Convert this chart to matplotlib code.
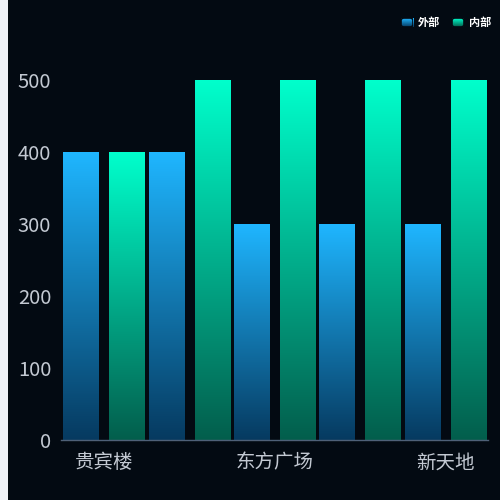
import numpy as np
import matplotlib
matplotlib.use('Agg')
import matplotlib.pyplot as plt
import matplotlib.patches as patches
from matplotlib.colors import LinearSegmentedColormap

plt.rcParams['font.family'] = ['Noto Sans CJK SC', 'DejaVu Sans']

# data
categories = ['贵宾楼', '', '东方广场', '', '新天地']
outer = [400, 400, 300, 300, 300]   # 外部
inner = [400, 500, 500, 500, 500]   # 内部
series_names = ['外部', '内部']

bg = '#030a12'
blue_top, blue_bot = '#1fb6ff', '#063a60'
green_top, green_bot = '#00ffcc', '#035e4c'

fig = plt.figure(figsize=(5, 5), dpi=100, facecolor=bg)
# light strip on the left edge
fig.patches.append(patches.Rectangle((0, 0), 0.016, 1, transform=fig.transFigure,
                                     facecolor='#eff2f7', edgecolor='none'))

ax = fig.add_axes([0.122, 0.12, 0.854, 0.72], facecolor=bg)
width = 0.41
offset = 0.27


def grad_bar(x, h, top, bot):
    cmap = LinearSegmentedColormap.from_list('g', [bot, top])
    g = np.linspace(0, 1, 256).reshape(-1, 1)
    ax.imshow(g, cmap=cmap, origin='lower', aspect='auto',
              extent=[x - width / 2, x + width / 2, 0, h], zorder=2)


for i in range(len(categories)):
    grad_bar(i - offset, outer[i], blue_top, blue_bot)
    grad_bar(i + offset, inner[i], green_top, green_bot)

ax.set_xlim(-0.5, len(categories) - 0.5)
ax.set_ylim(0, 500)
ax.set_xticks(range(len(categories)))
ax.set_xticklabels(categories, fontsize=14, color='#c3c9d2')
ax.set_yticks([0, 100, 200, 300, 400, 500])
ax.tick_params(axis='both', length=0, colors='#c3c9d2')
ax.tick_params(axis='y', labelsize=14.5, pad=7)
ax.tick_params(axis='x', labelsize=14, pad=9)
for s in ['top', 'right', 'left']:
    ax.spines[s].set_visible(False)
ax.spines['bottom'].set_color('#4f6178')
ax.spines['bottom'].set_linewidth(1)

# legend
for px, name, top, bot in [(0.802, series_names[0], blue_top, blue_bot),
                           (0.904, series_names[1], green_top, green_bot)]:
    lax = fig.add_axes([px, 0.946, 0.024, 0.018])
    cmap = LinearSegmentedColormap.from_list('l', [bot, top])
    lax.imshow(np.linspace(0, 1, 32).reshape(-1, 1), cmap=cmap, origin='lower',
               aspect='auto', extent=[0, 1, 0, 1])
    lax.add_patch(patches.FancyBboxPatch((0, 0), 1, 1, boxstyle='round,pad=0,rounding_size=0.25',
                                         facecolor='none', edgecolor=bg, linewidth=1.2))
    lax.set_axis_off()
    fig.text(px + 0.034, 0.955, name, color='white', fontsize=8, weight='bold',
             va='center', ha='left')

fig.savefig('out.png', dpi=100, facecolor=bg)
